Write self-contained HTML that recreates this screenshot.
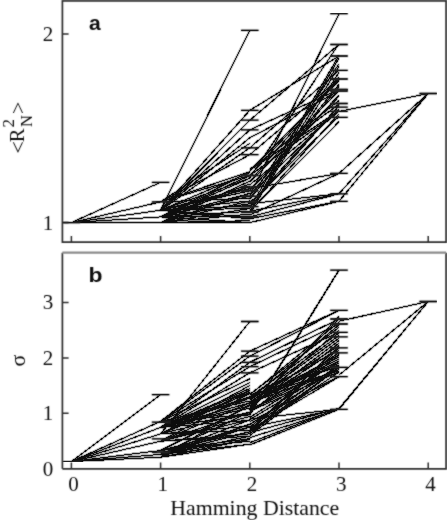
<!DOCTYPE html>
<html><head><meta charset="utf-8"><style>
html,body{margin:0;padding:0;background:#fff;}
svg{display:block;}
</style></head><body>
<svg width="447" height="521" viewBox="0 0 447 521"><defs><filter id="bl" x="0" y="0" width="1" height="1"><feConvolveMatrix order="3" kernelMatrix="0.4 0.8 0.4 0.8 4 0.8 0.4 0.8 0.4" divisor="6" preserveAlpha="false" edgeMode="none"/></filter><filter id="bs" x="0" y="0" width="1" height="1"><feConvolveMatrix order="3" kernelMatrix="0.3 0.6 0.3 0.6 5 0.6 0.3 0.6 0.3" divisor="8.6" preserveAlpha="false" edgeMode="none"/></filter></defs><rect width="447" height="521" fill="#fff"/><g filter="url(#bl)"><path d="M71.4,222.6L160.6,182.3M71.4,222.6L160.6,201.9M71.4,222.6L160.6,210.3M71.4,222.6L160.6,216.9M71.4,222.6L160.6,222.6M160.6,210.3L249.8,30.3M160.6,210.3L249.8,110.3M160.6,210.3L249.8,120.2M160.6,210.3L249.8,129.9M160.6,210.3L249.8,137.8M160.6,201.9L249.8,143.4M160.6,210.3L249.8,147.8M160.6,201.9L249.8,154.7M160.6,201.9L249.8,175.5M160.6,216.9L249.8,222.6M160.6,222.6L249.8,222.6M160.6,222.6L249.8,220.7M160.6,210.3L249.8,218.8M160.6,216.9L249.8,216.9M160.6,210.3L249.8,216.9M160.6,222.6L249.8,214.1M160.6,216.9L249.8,211.3M160.6,222.6L249.8,208.5M160.6,210.3L249.8,208.5M160.6,210.3L249.8,205.6M160.6,216.9L249.8,203.7M160.6,210.3L249.8,200.9M160.6,222.6L249.8,200.9M160.6,201.9L249.8,198.1M160.6,216.9L249.8,196.2M160.6,222.6L249.8,193.4M160.6,216.9L249.8,193.4M160.6,210.3L249.8,190.9M160.6,210.3L249.8,188.7M160.6,216.9L249.8,186.8M160.6,210.3L249.8,186.8M160.6,216.9L249.8,184.0M160.6,222.6L249.8,181.1M160.6,216.9L249.8,178.3M160.6,210.3L249.8,178.3M160.6,216.9L249.8,175.5M160.6,210.3L249.8,172.6M160.6,216.9L249.8,171.7M160.6,201.9L249.8,171.7M249.8,110.3L339.0,56.0M249.8,120.2L339.0,44.5M249.8,129.9L339.0,89.3M249.8,147.8L339.0,70.3M249.8,154.7L339.0,79.0M249.8,137.8L339.0,91.0M249.8,195.6L339.0,13.7M249.8,177.9L339.0,43.8M249.8,208.1L339.0,55.5M249.8,212.2L339.0,58.2M249.8,199.2L339.0,63.7M249.8,211.3L339.0,66.6M249.8,212.5L339.0,72.3M249.8,181.7L339.0,76.8M249.8,175.6L339.0,78.1M249.8,171.0L339.0,80.5M249.8,195.7L339.0,84.3M249.8,199.2L339.0,86.2M249.8,182.3L339.0,90.5M249.8,190.1L339.0,95.3M249.8,190.1L339.0,96.2M249.8,170.6L339.0,100.5M249.8,169.1L339.0,104.3M249.8,206.9L339.0,106.0M249.8,204.2L339.0,105.7M249.8,194.6L339.0,109.6M249.8,170.1L339.0,110.7M249.8,211.9L339.0,113.9M249.8,202.8L339.0,116.4M249.8,211.3L339.0,121.7M249.8,188.7L339.0,173.4M249.8,215.1L339.0,173.4M249.8,211.3L339.0,193.8M249.8,216.9L339.0,193.8M249.8,222.6L339.0,201.3M249.8,218.8L339.0,201.3M249.8,203.7L339.0,193.8M249.8,184.9L339.0,111.4M249.8,175.5L339.0,111.4M339.0,111.4L428.2,93.5M339.0,173.4L428.2,93.5M339.0,193.8L428.2,93.5M339.0,201.3L428.2,93.5M71.4,461.6L160.6,394.6M71.4,461.6L160.6,421.4M71.4,461.6L160.6,427.4M71.4,461.6L160.6,433.9M71.4,461.6L160.6,441.2M71.4,461.6L160.6,450.5M71.4,461.6L160.6,454.4M71.4,461.6L160.6,457.2M160.6,433.9L249.8,321.5M160.6,421.4L249.8,351.2M160.6,421.4L249.8,356.2M160.6,427.4L249.8,362.3M160.6,421.4L249.8,366.7M160.6,427.4L249.8,372.8M160.6,421.4L249.8,378.9M160.6,427.4L249.8,382.8M160.6,433.9L249.8,385.6M160.6,454.4L249.8,444.2M160.6,457.2L249.8,444.2M160.6,450.5L249.8,441.2M160.6,454.4L249.8,439.5M160.6,457.2L249.8,439.5M160.6,450.5L249.8,438.7M160.6,454.4L249.8,436.3M160.6,441.2L249.8,436.3M160.6,441.2L249.8,433.9M160.6,454.4L249.8,431.9M160.6,450.5L249.8,431.9M160.6,433.9L249.8,430.2M160.6,450.5L249.8,427.1M160.6,454.4L249.8,427.1M160.6,433.9L249.8,426.1M160.6,454.4L249.8,424.2M160.6,457.2L249.8,424.2M160.6,427.4L249.8,420.3M160.6,454.4L249.8,419.8M160.6,441.2L249.8,419.8M160.6,441.2L249.8,416.4M160.6,427.4L249.8,414.7M160.6,421.4L249.8,414.7M160.6,454.4L249.8,412.0M160.6,441.2L249.8,412.0M160.6,433.9L249.8,412.0M160.6,427.4L249.8,408.2M160.6,450.5L249.8,405.8M160.6,427.4L249.8,405.8M160.6,457.2L249.8,404.5M160.6,427.4L249.8,402.9M160.6,441.2L249.8,402.9M160.6,421.4L249.8,401.0M160.6,433.9L249.8,397.9M160.6,427.4L249.8,397.9M160.6,427.4L249.8,396.7M160.6,441.2L249.8,393.5M160.6,427.4L249.8,393.5M160.6,433.9L249.8,392.1M160.6,433.9L249.8,390.5M160.6,427.4L249.8,390.5M160.6,427.4L249.8,388.6M249.8,415.0L339.0,270.2M249.8,413.9L339.0,269.9M249.8,351.2L339.0,310.4M249.8,356.2L339.0,310.4M249.8,362.3L339.0,319.0M249.8,366.7L339.0,324.0M249.8,372.8L339.0,332.3M249.8,411.1L339.0,371.7M249.8,397.4L339.0,370.9M249.8,403.0L339.0,369.6M249.8,409.8L339.0,368.2M249.8,395.1L339.0,366.6M249.8,396.5L339.0,364.9M249.8,409.8L339.0,363.1M249.8,403.8L339.0,361.1M249.8,403.3L339.0,359.1M249.8,402.7L339.0,357.0M249.8,403.6L339.0,354.9M249.8,412.1L339.0,352.6M249.8,397.9L339.0,350.4M249.8,406.4L339.0,348.0M249.8,401.9L339.0,345.6M249.8,412.7L339.0,343.2M249.8,407.4L339.0,340.7M249.8,402.5L339.0,338.1M249.8,400.4L339.0,335.5M249.8,397.1L339.0,332.9M249.8,408.2L339.0,330.2M249.8,394.3L339.0,327.5M249.8,399.4L339.0,324.8M249.8,394.8L339.0,322.0M249.8,406.7L339.0,319.1M249.8,409.9L339.0,316.3M249.8,424.4L339.0,367.3M249.8,430.0L339.0,376.7M249.8,421.7L339.0,376.7M249.8,435.5L339.0,367.3M249.8,417.4L339.0,361.2M249.8,419.6L339.0,366.1M249.8,433.5L339.0,367.3M249.8,427.2L339.0,354.7M249.8,431.2L339.0,367.8M249.8,431.5L339.0,346.0M249.8,429.7L339.0,346.5M249.8,436.3L339.0,348.3M249.8,428.6L339.0,364.8M249.8,431.8L339.0,372.1M249.8,427.2L339.0,409.3M249.8,437.7L339.0,409.3M249.8,444.9L339.0,409.3M249.8,442.7L339.0,408.3M249.8,432.7L339.0,408.3M249.8,418.9L339.0,409.3M339.0,321.2L428.2,301.5M339.0,375.1L428.2,301.5M339.0,409.3L428.2,301.5M339.0,408.6L428.2,301.5" fill="none" stroke="#111" stroke-width="1.0" shape-rendering="crispEdges"/><path d="M62.6,222.6H80.2M151.8,182.3H169.4M151.8,201.9H169.4M241.0,30.3H258.6M241.0,110.3H258.6M241.0,120.2H258.6M241.0,129.9H258.6M241.0,147.8H258.6M241.0,154.7H258.6M241.0,175.5H258.6M241.0,186.8H258.6M241.0,190.9H258.6M241.0,196.2H258.6M241.0,201.9H258.6M241.0,206.6H258.6M241.0,212.2H258.6M241.0,216.9H258.6M330.2,13.7H347.8M330.2,44.5H347.8M330.2,56.0H347.8M330.2,70.3H347.8M330.2,79.0H347.8M330.2,89.3H347.8M330.2,91.0H347.8M330.2,103.5H347.8M330.2,107.2H347.8M330.2,111.4H347.8M330.2,117.4H347.8M330.2,173.4H347.8M330.2,193.8H347.8M330.2,201.3H347.8M419.4,93.5H437.0M62.6,461.6H80.2M151.8,394.6H169.4M151.8,422.2H169.4M151.8,438.8H169.4M151.8,452.2H169.4M241.0,321.5H258.6M241.0,351.2H258.6M241.0,356.2H258.6M241.0,362.3H258.6M241.0,366.7H258.6M241.0,372.8H258.6M330.2,270.2H347.8M330.2,310.4H347.8M330.2,319.0H347.8M330.2,324.0H347.8M330.2,332.3H347.8M330.2,336.8H347.8M330.2,347.9H347.8M330.2,352.9H347.8M330.2,367.3H347.8M330.2,376.7H347.8M330.2,409.3H347.8M419.4,301.5H437.0" fill="none" stroke="#222" stroke-width="1.3"/></g><g filter="url(#bs)"><g fill="none" stroke="#2e2e2e" stroke-width="1.7"><path d="M62.4,0.8 H446.1 V242.2 H62.4 Z"/><path d="M62.4,468.8 H446.1 V252.7"/><path d="M62.4,252.7 V468.8"/></g><line x1="62.4" y1="252.7" x2="446.1" y2="252.7" stroke="#8c8c8c" stroke-width="2.2"/><path d="M71.4,242.2 V236 M71.4,468.8 V462.4 M160.6,242.2 V236 M160.6,468.8 V462.4 M249.8,242.2 V236 M249.8,468.8 V462.4 M339.0,242.2 V236 M339.0,468.8 V462.4 M428.2,242.2 V236 M428.2,468.8 V462.4 M62.4,222.6 H68.6 M62.4,34.1 H68.6 M62.4,413.3 H68.6 M62.4,357.9 H68.6 M62.4,302.4 H68.6" stroke="#2e2e2e" stroke-width="1.5" fill="none"/><g font-family="Liberation Serif, serif" font-size="21" fill="#111" text-anchor="end"><text x="53.2" y="229.6">1</text><text x="53.2" y="41.1">2</text><text x="53.2" y="475.8">0</text><text x="53.2" y="420.3">1</text><text x="53.2" y="364.9">2</text><text x="53.2" y="309.4">3</text></g><g font-family="Liberation Serif, serif" font-size="21" fill="#111" text-anchor="middle"><text x="73.6" y="490.8">0</text><text x="162.8" y="490.8">1</text><text x="252.0" y="490.8">2</text><text x="341.2" y="490.8">3</text><text x="430.4" y="490.8">4</text></g><text x="170.3" y="514.5" font-family="Liberation Serif, serif" font-size="21.8" fill="#111">Hamming Distance</text><text x="89" y="29.6" font-family="Liberation Sans, sans-serif" font-weight="bold" font-size="21" fill="#111">a</text><text x="88.5" y="281.6" font-family="Liberation Sans, sans-serif" font-weight="bold" font-size="21" fill="#111" textLength="14" lengthAdjust="spacingAndGlyphs">b</text><g transform="translate(24.3,153) rotate(-90)" font-family="Liberation Serif, serif" font-size="20.5" fill="#111"><text><tspan x="-0.4" y="0.3" font-size="22">&lt;</tspan><tspan x="10.8" y="0">R</tspan><tspan x="25.6" y="-10.5" font-size="17">2</tspan><tspan x="26" y="7.6" font-size="16.5">N</tspan><tspan x="39" y="0.3" font-size="22">&gt;</tspan></text></g><g transform="translate(25,366.5) rotate(-90)" font-family="Liberation Serif, serif" font-size="22" fill="#111"><text x="0" y="0">σ</text></g></g></svg>
</body></html>
